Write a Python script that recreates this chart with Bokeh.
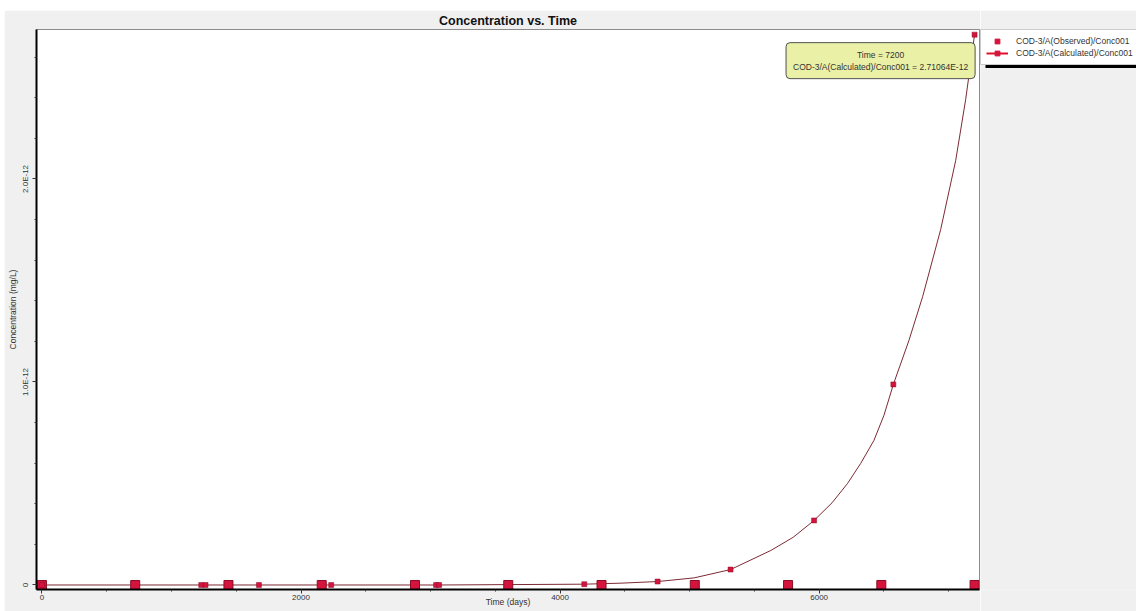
from bokeh.plotting import figure
from bokeh.models import (Range1d, FixedTicker, CustomJSTickFormatter, Legend, LegendItem,
                          Label, BoxAnnotation, Spacer, ColumnDataSource)
from bokeh.layouts import row, column
from bokeh.embed import file_html
from bokeh.resources import INLINE

# Observed concentrations at the monitoring well
obs_time = [0, 720, 1440, 2160, 2880, 3600, 4320, 5040, 5760, 6480, 7200]
obs_conc = [0, 0, 0, 0, 0, 0, 0, 0, 0, 0, 0]

# Calculated concentrations at the model output times (mg/L)
calc_time = [0, 1230, 1263, 1675, 2233, 3043, 3066, 4187, 4753, 5316, 5961, 6573, 7200]
calc_conc = [0, 0, 0, 0, 0, 0, 0, 0.004e-12, 0.017e-12, 0.076e-12, 0.318e-12,
             0.988e-12, 2.71064e-12]

# Calculated curve at finer resolution
curve_time = [0, 1230, 1263, 1675, 2233, 3043, 3066, 4187, 4470, 4753, 5035, 5316,
              5627, 5800, 5961, 6100, 6218, 6320, 6423, 6500, 6573, 6693, 6799,
              6938, 7054, 7131, 7200]
curve_conc = [0, 0, 0, 0, 0, 0, 0, 0.004e-12, 0.009e-12, 0.017e-12, 0.035e-12,
              0.076e-12, 0.170e-12, 0.235e-12, 0.318e-12, 0.405e-12, 0.499e-12,
              0.598e-12, 0.712e-12, 0.835e-12, 0.988e-12, 1.204e-12, 1.42e-12,
              1.75e-12, 2.09e-12, 2.39e-12, 2.71064e-12]

x_major = [0, 2000, 4000, 6000]
y_major = [0, 1e-12, 2e-12]

obs_name = "COD-3/A(Observed)/Conc001"
calc_name = "COD-3/A(Calculated)/Conc001"
x_title = "Time (days)"

FONT = "Liberation Sans"
RED = "#d4143c"
DARK_RED = "#8a0c26"

obs_src = ColumnDataSource(dict(t=obs_time, c=obs_conc))
calc_src = ColumnDataSource(dict(t=calc_time, c=calc_conc))
curve_src = ColumnDataSource(dict(t=curve_time, c=curve_conc))

p = figure(width=976, height=601, output_backend="svg", toolbar_location=None,
           x_range=Range1d(-42, 7238), y_range=Range1d(-0.0222e-12, 2.736e-12),
           min_border_left=28, min_border_right=1, min_border_top=19, min_border_bottom=22,
           background_fill_color="white", border_fill_color="#f0f0f0",
           outline_line_color="#8c8c8c", outline_line_width=1)
p.grid.visible = False

p.title.text = "Concentration vs. Time"
p.title.align = "center"
p.title.text_font = FONT
p.title.text_font_size = "12.5px"
p.title.text_font_style = "bold"
p.title.text_color = "#111111"
p.title.standoff = 3

# axes
for ax in (p.xaxis[0], p.yaxis[0]):
    ax.axis_line_color = "black"
    ax.axis_line_width = 2
    ax.major_tick_line_color = "#333333"
    ax.minor_tick_line_color = "#333333"
    ax.major_tick_in = 0
    ax.major_tick_out = 4
    ax.minor_tick_in = 0
    ax.minor_tick_out = 2
    ax.major_label_text_font = FONT
    ax.major_label_text_font_size = "8px"
    ax.major_label_text_color = "#333333"
    ax.axis_label_text_font = FONT
    ax.axis_label_text_font_size = "8.5px"
    ax.axis_label_text_font_style = "normal"
    ax.axis_label_text_color = "#333333"
    ax.major_label_standoff = 2
    ax.axis_label_standoff = 1

p.xaxis.ticker = FixedTicker(ticks=x_major, minor_ticks=list(range(0, 7500, 500)))
p.xaxis.axis_label = x_title
p.xaxis.major_label_standoff = 1
# pull the axis title up beside the tick labels so it fits the bottom border
p.xaxis.axis_label_standoff = -6

p.yaxis.ticker = FixedTicker(ticks=y_major,
                             minor_ticks=[i * 0.2e-12 for i in range(14)])
p.yaxis.formatter = CustomJSTickFormatter(
    code="return tick == 0 ? '0' : tick.toExponential(1).toUpperCase();")
p.yaxis.major_label_orientation = "vertical"
p.yaxis.axis_label = "Concentration (mg/L)"

# calculated curve, observed points and calculated output points
p.line("t", "c", source=curve_src, line_color="#7d2a34", line_width=1)
p.scatter("t", "c", source=obs_src, marker="square", size=9,
          fill_color=RED, line_color=DARK_RED, line_width=1)
p.scatter("t", "c", source=calc_src, marker="square", size=5,
          fill_color=RED, line_color=DARK_RED, line_width=0.5)

# hover-style readout at the last calculated value
last_t = calc_time[-1]
last_c = calc_conc[-1]
tip = Label(x=last_t, y=last_c, x_offset=-94, y_offset=-26,
            text=f"Time = {last_t}\n{calc_name} = {last_c:.5E}",
            text_align="center", text_baseline="middle",
            text_font=FONT, text_font_size="8.5px", text_color="#333333",
            background_fill_color="#eaf0a6", background_fill_alpha=1.0,
            border_line_color="#505050", border_line_width=1,
            border_radius=4, padding=7)
p.add_layout(tip)

# side panel holding the legend
q = figure(width=156, height=601, output_backend="svg", toolbar_location=None,
           x_range=Range1d(0, 156), y_range=Range1d(0, 582),
           min_border_left=0, min_border_right=0, min_border_top=19, min_border_bottom=0,
           background_fill_color="#f0f0f0", border_fill_color="#f0f0f0",
           outline_line_color=None)
q.axis.visible = False
q.grid.visible = False
q.extra_x_ranges = {"off": Range1d(-20000, -10000)}

k_obs = q.scatter("t", "c", source=obs_src, marker="square", size=9,
                  fill_color=RED, line_color=RED, x_range_name="off")
k_line = q.line("t", "c", source=calc_src, line_color="#e0102c", line_width=2,
                x_range_name="off")
k_mark = q.scatter("t", "c", source=calc_src, marker="square", size=9,
                   fill_color=RED, line_color=RED, x_range_name="off")

legend = Legend(items=[LegendItem(label=obs_name, renderers=[k_obs]),
                       LegendItem(label=calc_name, renderers=[k_line, k_mark])],
                location="top_left", margin=0, padding=5, spacing=0,
                glyph_width=22, glyph_height=12, label_height=12, label_standoff=8,
                label_text_font=FONT, label_text_font_size="8.5px",
                label_text_color="#333333",
                background_fill_color="white", background_fill_alpha=1.0,
                border_line_color="#9a9a9a", border_line_width=1)
q.add_layout(legend)

q.add_layout(BoxAnnotation(left=5, right=156, top=548, bottom=542, level="overlay",
                           fill_color="black", fill_alpha=1.0, line_color=None))

layout = column(Spacer(width=1136, height=10),
                row(Spacer(width=4, height=601), p, q))

open("out.html", "w").write(file_html(layout, INLINE))
